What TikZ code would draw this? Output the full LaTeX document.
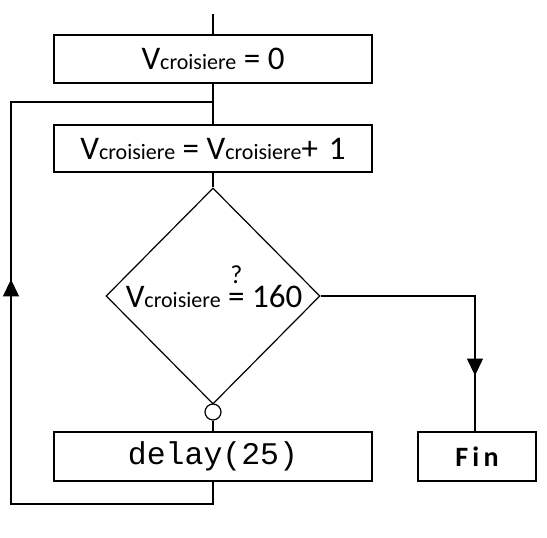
\documentclass[tikz,border=0pt]{standalone}
\usepackage{fontspec}
\setmainfont{Carlito}
\newfontfamily\codefont{Liberation Mono}
\usetikzlibrary{shapes.geometric,arrows.meta,decorations.markings}
% variable name with a small, same-baseline suffix
\newcommand\Vcr{V{\fontsize{22}{24}\selectfont croisiere}}
% equals sign with a question mark set above it
\newcommand\queq{\ooalign{\hfil\raisebox{24pt}{\fontsize{26}{28}\selectfont ?}\hfil\cr=\cr}}
\begin{document}
\begin{tikzpicture}[x=1pt,y=-1pt,line width=1.2pt,
  procbox/.style={draw,minimum width=318pt,minimum height=48pt,inner sep=0pt,
    font=\fontsize{33}{36}\selectfont},
  decision/.style={draw,diamond,minimum width=214pt,minimum height=216pt,inner sep=0pt},
  midtip/.style={postaction={decorate},decoration={markings,
    mark=at position #1 with {\arrow{Triangle[length=17pt,width=16pt]}}}}]
\useasboundingbox (0,0) rectangle (547,538);

\coordinate (entry) at (213,14);
\node[procbox] (init) at (213,59) {\Vcr{} = 0};
\node[procbox,minimum height=47pt] (incr) at (213,148.5) {\Vcr{} = \Vcr{}+\,\,1};
\node[decision] (test) at (213,296) {};
\node[font=\fontsize{33}{36}\selectfont,anchor=base,inner sep=0pt] (cond) at (214,307) {\Vcr{} \queq{} 160};
\node[circle,draw,minimum size=16pt,inner sep=0pt] (neg) at (213,412) {};
\node[procbox,minimum height=49pt,font=\codefont\fontsize{31.5}{34}\selectfont] (wait) at (213,456.5) {delay(25)};
\node[draw,minimum width=118pt,minimum height=49pt,inner sep=0pt,
  font=\bfseries\addfontfeature{LetterSpace=15}\fontsize{28}{30}\selectfont] (fin) at (477,456.5) {Fin};

\coordinate (join) at (213,102);
\coordinate (loopbot) at (11,504);
\coordinate (looptop) at (11,102);

\draw (entry) -- (init.north);
\draw (init.south) -- (incr.north);
\draw (incr.south) -- (test.north);
\draw (neg.south) -- (wait.north);
\draw[midtip=449pt] (wait.south) |- (loopbot) -- (looptop) -- (join);
\draw[midtip=234pt] (test.east) -| ([xshift=-2pt]fin.north);
\end{tikzpicture}
\end{document}
